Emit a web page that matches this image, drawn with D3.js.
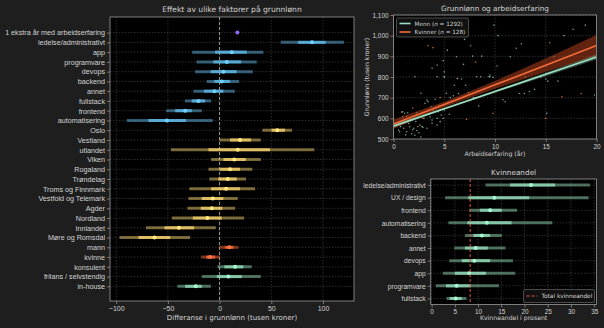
<!DOCTYPE html>
<html>
<head>
<meta charset="utf-8">
<script src="https://cdn.jsdelivr.net/npm/d3@7"></script>
<style>
body { margin: 0; background: #1e1e1e; }
svg { display: block; font-family: "DejaVu Sans", sans-serif; }
</style>
</head>
<body>
<svg id="chart" width="604" height="328"></svg>
<script>
'use strict';

// --- effekt-figuren (venstre) ---
const effectLabels = ['1 ekstra år med arbeidserfaring', 'ledelse/administrativt', 'app', 'programvare', 'devops',
	'backend', 'annet', 'fullstack', 'frontend', 'automatisering', 'Oslo', 'Vestland', 'utlandet', 'Viken',
	'Rogaland', 'Trøndelag', 'Troms og Finnmark', 'Vestfold og Telemark', 'Agder', 'Nordland', 'Innlandet',
	'Møre og Romsdal', 'mann', 'kvinne', 'konsulent', 'frilans / selvstendig', 'in-house'];
const effectGroup = ['erfaring', 'stilling', 'stilling', 'stilling', 'stilling', 'stilling', 'stilling', 'stilling',
	'stilling', 'stilling', 'region', 'region', 'region', 'region', 'region', 'region', 'region', 'region', 'region',
	'region', 'region', 'region', 'kjonn', 'kjonn', 'ansettelse', 'ansettelse', 'ansettelse'];
const effectLo95 = [16.5, 59, -26.6, -22.4, -23.7, -12.4, -25.3, -33.6, -51.7, -89.7, 41.4, -0.2, -47.1, -8.2, -10.8, -9.9, -29.2, -30.1, -31.1, -46.2, -71.3, -96.8, -0.2, -17.9, -2.1, -17.2, -40.8];
const effectLo50 = [16.9, 76, -4.3, -6, -8.5, -5, -15, -26.9, -43, -68.8, 50.4, 10.1, -10.8, 3.7, 0.5, -1.2, -8.2, -17.2, -18.2, -25.9, -53.3, -78.5, 5.3, -13, 4.6, -2.7, -33.3];
const effectMid = [17.2, 89.4, 11.8, 7, 3.7, 2.1, -5, -20.5, -33.3, -51, 55.8, 19.8, 17.6, 14.2, 10.1, 7.9, 6.3, -6.6, -7.5, -11.8, -39.4, -63, 9.5, -9.2, 15, 8.5, -23];
const effectHi50 = [17.5, 102.6, 26.3, 20.8, 16.6, 10.1, 3.7, -14, -26.9, -32.4, 63.3, 30.4, 48.8, 25.3, 19.8, 16.6, 19.8, 3.7, 2.7, 2.1, -24.6, -47.8, 13.3, -4.3, 23, 21.4, -17.2];
const effectHi95 = [17.9, 120.3, 42.3, 35.9, 32.1, 18.8, 14.7, -8.2, -17.2, -6.6, 70, 39.8, 91.6, 39.9, 31.7, 25.6, 34.3, 17.6, 15, 23.7, -3.7, -28.5, 18.2, 0.5, 31.1, 39.8, -8.5];
const effectTicks = [-100, -50, 0, 50, 100];

const groupColors = {
	erfaring: '#7d5ce6',
	stilling: '#5fb6e4',
	region: '#eecb6c',
	kjonn: '#f0653a',
	ansettelse: '#8fd6b4',
};

// --- grunnlønn og arbeidserfaring (øverst til høyre) ---
const mennExp = [0.5, 0.6, 1.0, 1.3, 1.6, 2.0, 2.3, 2.6, 2.9, 3.3, 3.8, 4.3, 0.9, 1.1, 1.4, 0.9, 1.6, 2.3, 3.6, 3.8,
	4.3, 4.6, 3.3, 3.4, 3.1, 4.1, 3.7, 3.9, 4.4, 4.7, 4.9, 2.7, 5.2, 5.9, 1.2, 1.8, 2.1, 2.5, 2.7, 1.5, 2.2, 3.0,
	4.0, 4.5, 5.0, 5.5, 2.1, 4.3, 5.0, 6.3, 6.7, 8.2, 8.6, 9.5, 9.8, 7.4, 7.9, 6.2, 6.9, 7.0, 7.8, 8.7, 9.9, 10.3,
	9.5, 10.2, 11.5, 12.1, 12.6, 12.9, 13.4, 13.9, 15.0, 15.2, 15.8, 16.8, 17.7, 18.9, 19.8, 4.9, 3.8, 5.0, 4.3,
	5.3, 6.0, 9.4, 5.0, 12.4, 14.5, 15.1, 11.0, 8.4, 5.6, 6.4, 7.1, 3.5, 2.8, 1.9, 0.7, 13.0, 16.2, 10.8];
const mennLonn = [543, 535, 552, 535, 559, 552, 541, 568, 557, 552, 576, 568, 632, 624, 627, 608, 592, 627, 608, 592,
	600, 584, 689, 681, 673, 692, 657, 640, 632, 616, 600, 721, 721, 709, 520, 525, 518, 530, 510, 575, 585, 600,
	650, 660, 640, 620, 801, 801, 801, 793, 790, 801, 801, 810, 798, 724, 701, 898, 861, 982, 901, 901, 1051, 1000,
	801, 853, 898, 939, 961, 720, 730, 740, 790, 780, 898, 1000, 1031, 1051, 713, 879, 842, 825, 858, 930, 760,
	801, 800, 720, 800, 624, 680, 660, 700, 720, 760, 620, 560, 545, 560, 800, 780, 690];
const kvinnerExp = [0.8, 1.3, 1.9, 2.9, 3.4, 3.9, 6.3, 7.2, 7.6, 8.1, 9.8, 15.0, 15.4, 16.6, 18.5, 2.4, 4.6];
const kvinnerLonn = [630, 610, 650, 600, 951, 942, 793, 595, 951, 872, 624, 600, 966, 704, 720, 560, 700];
const expTicks = [0, 5, 10, 15, 20];
const lonnTicks = [500, 600, 700, 800, 900, 1000, 1100];
// regresjonslinjer og usikkerhetsbånd, lest av i x = 0, 5, 10, 15, 20
const fitExp = [0, 5, 10, 15, 20];
const mennFit = [563, 646, 730, 813, 897];
const mennFitLo = [555, 641, 724, 804, 885];
const mennFitHi = [571, 651, 736, 822, 909];
const kvinnerFit = [572, 667, 762, 857, 952];
const kvinnerFitLo = [550, 654, 743, 825, 902];
const kvinnerFitHi = [594, 680, 781, 889, 1003];

// --- kvinneandel (nederst til høyre) ---
const shareLabels = ['ledelse/administrativt', 'UX / design', 'frontend', 'automatisering', 'backend', 'annet',
	'devops', 'app', 'programvare', 'fullstack'];
const shareLo95 = [11.6, 2.9, 8.1, 3.6, 7.2, 4.9, 3.8, 2.4, 0.9, 3.2];
const shareLo50 = [16.9, 7.9, 10.4, 7.7, 9.0, 7.2, 6.5, 5.0, 3.1, 3.9];
const shareMid = [21.4, 13.5, 12.6, 11.9, 10.8, 9.5, 9.2, 8.1, 5.4, 5.2];
const shareHi50 = [26.6, 21.0, 15.1, 17.2, 12.6, 12.1, 12.6, 11.7, 8.5, 6.5];
const shareHi95 = [34.1, 33.8, 18.4, 26.0, 15.1, 15.9, 17.5, 18.0, 14.5, 7.5];
const shareTotal = 8.3;
const shareTicks = [0, 5, 10, 15, 20, 25, 30, 35];

const TEXT = '#d4d4d4', SPINE = '#8a8a8a', GRID = '#4a4a4a', PLOT_BG = '#000';

let svg = d3.select('#chart');

function styleAxis(g, size) {
	g.select('.domain').remove();
	g.selectAll('.tick line').attr('stroke', SPINE).attr('stroke-width', 0.8);
	g.selectAll('.tick text').attr('fill', TEXT).style('fill', TEXT).style('font-size', size + 'px');
}

function panel(x0, y0, x1, y1) {
	let g = svg.append('g');
	g.append('rect').attr('x', x0).attr('y', y0).attr('width', x1 - x0).attr('height', y1 - y0).attr('fill', PLOT_BG);
	return g;
}

function frame(g, x0, y0, x1, y1) {
	g.append('rect').attr('x', x0).attr('y', y0).attr('width', x1 - x0).attr('height', y1 - y0)
		.attr('fill', 'none').attr('stroke', SPINE).attr('stroke-width', 0.9);
}

function drawIntervals(g, x, y, lo95, lo50, mid, hi50, hi95, color) {
	let idx = d3.range(mid.length);
	g.selectAll(null).data(idx).enter().append('line')
		.attr('x1', i => x(lo95[i])).attr('x2', i => x(hi95[i]))
		.attr('y1', i => y(i)).attr('y2', i => y(i))
		.attr('stroke', i => color(i)).attr('stroke-width', 3).attr('stroke-opacity', 0.5);
	g.selectAll(null).data(idx).enter().append('line')
		.attr('x1', i => x(lo50[i])).attr('x2', i => x(hi50[i]))
		.attr('y1', i => y(i)).attr('y2', i => y(i))
		.attr('stroke', i => color(i)).attr('stroke-width', 3).attr('stroke-opacity', 0.85);
	g.selectAll(null).data(idx).enter().append('circle')
		.attr('cx', i => x(mid[i])).attr('cy', i => y(i)).attr('r', 2)
		.attr('fill', i => d3.color(color(i)).brighter(0.4));
}

// ================= venstre: effekt =================
{
	let L = 110, T = 17, R = 354, B = 301;
	let g = panel(L, T, R, B);
	let x = d3.scaleLinear().domain([-106, 130]).range([L, R]);
	let y = d3.scaleLinear().domain([-1.6, effectLabels.length - 1 + 1.5]).range([T, B]);

	// rutenett
	g.selectAll(null).data(effectTicks).enter().append('line')
		.attr('x1', d => x(d)).attr('x2', d => x(d)).attr('y1', T).attr('y2', B)
		.attr('stroke', GRID).attr('stroke-width', 0.6).attr('stroke-dasharray', '1.5,1.5');
	g.selectAll(null).data(effectLabels).enter().append('line')
		.attr('x1', L).attr('x2', R).attr('y1', (d, i) => y(i)).attr('y2', (d, i) => y(i))
		.attr('stroke', GRID).attr('stroke-width', 0.6).attr('stroke-dasharray', '1.5,1.5');
	// nullinje
	g.append('line').attr('x1', x(0)).attr('x2', x(0)).attr('y1', T).attr('y2', B)
		.attr('stroke', '#9a9a9a').attr('stroke-width', 1).attr('stroke-dasharray', '3,2');

	drawIntervals(g, x, y, effectLo95, effectLo50, effectMid, effectHi50, effectHi95, i => groupColors[effectGroup[i]]);

	frame(g, L, T, R, B);

	let xAxis = svg.append('g').attr('transform', `translate(0,${B})`)
		.call(d3.axisBottom(x).tickValues(effectTicks).tickSize(3).tickPadding(2).tickFormat(d => d < 0 ? '−' + (-d) : d));
	styleAxis(xAxis, 7);
	let yAxis = svg.append('g').attr('transform', `translate(${L},0)`)
		.call(d3.axisLeft(y).tickValues(d3.range(effectLabels.length)).tickSize(3).tickPadding(2).tickFormat(i => effectLabels[i]));
	styleAxis(yAxis, 7.2);

	svg.append('text').attr('x', (L + R) / 2).attr('y', 12).attr('text-anchor', 'middle')
		.attr('fill', TEXT).style('font-size', '7.6px').text('Effekt av ulike faktorer på grunnlønn');
	svg.append('text').attr('x', (L + R) / 2).attr('y', 320).attr('text-anchor', 'middle')
		.attr('fill', TEXT).style('font-size', '7px').text('Differanse i grunnlønn (tusen kroner)');
}

// ================= øverst til høyre: scatter =================
{
	let L = 393.5, T = 15, R = 596.5, B = 139;
	let g = panel(L, T, R, B);
	let x = d3.scaleLinear().domain([0, 20]).range([L, R]);
	let y = d3.scaleLinear().domain([500, 1100]).range([B, T]);

	svg.append('clipPath').attr('id', 'clip-scatter').append('rect')
		.attr('x', L).attr('y', T).attr('width', R - L).attr('height', B - T);

	g.selectAll(null).data(expTicks).enter().append('line')
		.attr('x1', d => x(d)).attr('x2', d => x(d)).attr('y1', T).attr('y2', B)
		.attr('stroke', GRID).attr('stroke-width', 0.6).attr('stroke-dasharray', '1.5,1.5');
	g.selectAll(null).data(lonnTicks).enter().append('line')
		.attr('x1', L).attr('x2', R).attr('y1', d => y(d)).attr('y2', d => y(d))
		.attr('stroke', GRID).attr('stroke-width', 0.6).attr('stroke-dasharray', '1.5,1.5');

	let pts = g.append('g').attr('clip-path', 'url(#clip-scatter)');
	pts.selectAll(null).data(d3.range(mennExp.length)).enter().append('circle')
		.attr('cx', i => x(mennExp[i])).attr('cy', i => y(mennLonn[i])).attr('r', 0.8)
		.attr('fill', '#9fdcc0').attr('fill-opacity', 0.7);
	pts.selectAll(null).data(d3.range(kvinnerExp.length)).enter().append('circle')
		.attr('cx', i => x(kvinnerExp[i])).attr('cy', i => y(kvinnerLonn[i])).attr('r', 0.8)
		.attr('fill', '#f07a50').attr('fill-opacity', 0.8);

	let band = (lo, hi) => d3.area().x((d, i) => x(fitExp[i])).y0((d, i) => y(lo[i])).y1((d, i) => y(hi[i]));
	let line = (v) => d3.line().x((d, i) => x(fitExp[i])).y((d, i) => y(v[i]));
	pts.append('path').datum(fitExp).attr('d', band(kvinnerFitLo, kvinnerFitHi)).attr('fill', '#b0401c').attr('fill-opacity', 0.55);
	pts.append('path').datum(fitExp).attr('d', band(mennFitLo, mennFitHi)).attr('fill', '#8fd6b4').attr('fill-opacity', 0.35);
	pts.append('path').datum(fitExp).attr('d', line(mennFit)).attr('fill', 'none').attr('stroke', '#9fe0c2').attr('stroke-width', 1.6);
	pts.append('path').datum(fitExp).attr('d', line(kvinnerFit)).attr('fill', 'none').attr('stroke', '#f26b3a').attr('stroke-width', 1.6);

	frame(g, L, T, R, B);

	let xAxis = svg.append('g').attr('transform', `translate(0,${B})`)
		.call(d3.axisBottom(x).tickValues(expTicks).tickSize(3).tickPadding(2));
	styleAxis(xAxis, 6.4);
	let yAxis = svg.append('g').attr('transform', `translate(${L},0)`)
		.call(d3.axisLeft(y).tickValues(lonnTicks).tickSize(3).tickPadding(2));
	styleAxis(yAxis, 6.4);

	svg.append('text').attr('x', (L + R) / 2).attr('y', 11).attr('text-anchor', 'middle')
		.attr('fill', TEXT).style('font-size', '7.3px').text('Grunnlønn og arbeidserfaring');
	svg.append('text').attr('x', (L + R) / 2).attr('y', 155.5).attr('text-anchor', 'middle')
		.attr('fill', TEXT).style('font-size', '6.2px').text('Arbeidserfaring (år)');
	svg.append('text').attr('transform', `translate(368.5,${(T + B) / 2}) rotate(-90)`).attr('text-anchor', 'middle')
		.attr('fill', TEXT).style('font-size', '6.2px').text('Grunnlønn (tusen kroner)');

	// forklaring
	let lg = svg.append('g').attr('transform', `translate(${L + 3},${T + 3})`);
	lg.append('rect').attr('width', 72).attr('height', 19).attr('rx', 1.5)
		.attr('fill', '#111').attr('stroke', '#777').attr('stroke-width', 0.6);
	let items = [['Menn', '1292', '#9fe0c2'], ['Kvinner', '128', '#f26b3a']];
	items.forEach(([name, n, c], k) => {
		let yy = 5.5 + k * 8.5;
		lg.append('line').attr('x1', 3).attr('x2', 14).attr('y1', yy).attr('y2', yy).attr('stroke', c).attr('stroke-width', 1.6);
		let t = lg.append('text').attr('x', 18).attr('y', yy + 2).attr('fill', TEXT).style('font-size', '5.7px');
		t.append('tspan').text(`${name} (`);
		t.append('tspan').style('font-style', 'italic').text('n');
		t.append('tspan').text(` = ${n})`);
	});
}

// ================= nederst til høyre: kvinneandel =================
{
	let L = 430.7, T = 179, R = 596.5, B = 304.5;
	let g = panel(L, T, R, B);
	let x = d3.scaleLinear().domain([-0.2, 35.5]).range([L, R]);
	let y = d3.scaleLinear().domain([-0.48, shareLabels.length - 1 + 0.48]).range([T, B]);

	g.selectAll(null).data(shareTicks).enter().append('line')
		.attr('x1', d => x(d)).attr('x2', d => x(d)).attr('y1', T).attr('y2', B)
		.attr('stroke', GRID).attr('stroke-width', 0.6).attr('stroke-dasharray', '1.5,1.5');
	g.selectAll(null).data(shareLabels).enter().append('line')
		.attr('x1', L).attr('x2', R).attr('y1', (d, i) => y(i)).attr('y2', (d, i) => y(i))
		.attr('stroke', GRID).attr('stroke-width', 0.6).attr('stroke-dasharray', '1.5,1.5');

	drawIntervals(g, x, y, shareLo95, shareLo50, shareMid, shareHi50, shareHi95, () => '#8fd6b4');

	g.append('line').attr('x1', x(shareTotal)).attr('x2', x(shareTotal)).attr('y1', T).attr('y2', B)
		.attr('stroke', '#e0553a').attr('stroke-width', 1).attr('stroke-dasharray', '3,2');

	frame(g, L, T, R, B);

	let xAxis = svg.append('g').attr('transform', `translate(0,${B})`)
		.call(d3.axisBottom(x).tickValues(shareTicks).tickSize(3).tickPadding(2));
	styleAxis(xAxis, 6.4);
	let yAxis = svg.append('g').attr('transform', `translate(${L},0)`)
		.call(d3.axisLeft(y).tickValues(d3.range(shareLabels.length)).tickSize(3).tickPadding(2).tickFormat(i => shareLabels[i]));
	styleAxis(yAxis, 6.7);

	svg.append('text').attr('x', (L + R) / 2).attr('y', 175).attr('text-anchor', 'middle')
		.attr('fill', TEXT).style('font-size', '7.3px').text('Kvinneandel');
	svg.append('text').attr('x', (L + R) / 2).attr('y', 320).attr('text-anchor', 'middle')
		.attr('fill', TEXT).style('font-size', '6.2px').text('Kvinneandel i prosent');

	let lg = svg.append('g').attr('transform', `translate(${R - 73},${B - 15})`);
	lg.append('rect').attr('width', 71).attr('height', 13).attr('rx', 1.5)
		.attr('fill', '#111').attr('stroke', '#777').attr('stroke-width', 0.6);
	lg.append('line').attr('x1', 3).attr('x2', 14).attr('y1', 6.5).attr('y2', 6.5)
		.attr('stroke', '#e0553a').attr('stroke-width', 1).attr('stroke-dasharray', '3,2');
	lg.append('text').attr('x', 18).attr('y', 8.6).attr('fill', TEXT).style('font-size', '5.8px').text('Total kvinneandel');
}
</script>
</body>
</html>
